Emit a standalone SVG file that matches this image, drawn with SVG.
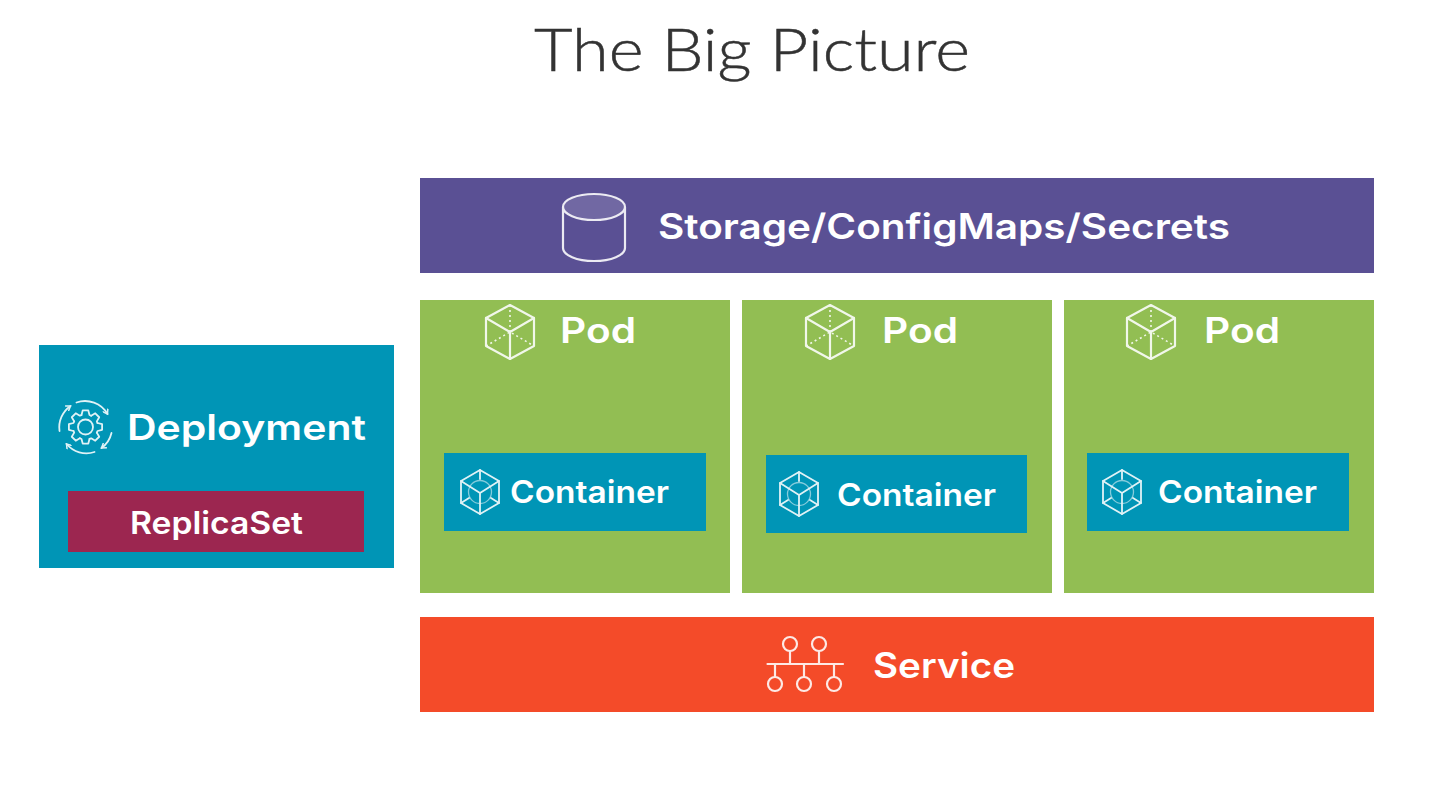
<svg xmlns="http://www.w3.org/2000/svg" xmlns:xlink="http://www.w3.org/1999/xlink" width="1442" height="812" viewBox="0 0 1442 812">
<style>
text{font-family:"Inter","Lato","Liberation Sans",sans-serif;fill:#fff;font-weight:600}
.title{font-family:"Lato","Liberation Sans",sans-serif;fill:#333;font-weight:300;font-size:59px;stroke:#333;stroke-width:.5}
.lab{font-size:35px}
.cont{font-size:31px}
.ic{fill:none;stroke:#fff;stroke-width:2.2;stroke-linejoin:round;stroke-linecap:round;opacity:.88}
.dot{stroke-dasharray:2 3;stroke-width:1.6;stroke-linecap:butt}
.thin{stroke-width:1.8}
.faint{stroke-width:1.3;opacity:.6}
.blue{fill:#0095b6}
.green{fill:#92be53}
</style>
<defs>
<g id="podIcon" class="ic">
<path d="M0,-27 L24,-14 L24,14 L0,27 L-24,14 L-24,-14 Z"/>
<path d="M-24,-14 L0,0 L24,-14 M0,0 L0,27"/>
<path class="dot" d="M0,-27 L0,0 M-24,14 L0,0 L24,14"/>
</g>
<g id="contIcon" class="ic thin">
<path d="M0,-22 L19,-11 L19,11 L0,22 L-19,11 L-19,-11 Z"/>
<path d="M-19,-11 L0,1 L19,-11 M0,1 L0,22 M0,-22 L0,-13 M-19,11 L-11,6 M19,11 L11,6"/>
<circle class="faint" cx="0" cy="0" r="11.5"/>
</g>
<path id="tooth" d="M-4,-12 L-2.8,-16.6 L2.8,-16.6 L4,-12 L5.6,-11.3"/>
<marker id="ah" markerWidth="7" markerHeight="7" refX="5" refY="3.5" orient="auto" markerUnits="userSpaceOnUse"><path d="M0.5,0.5 L5,3.5 L0.5,6.5" fill="none" stroke="#fff" stroke-width="1.5"/></marker>
</defs>

<text id="title" class="title" x="752" y="71" text-anchor="middle" textLength="436" lengthAdjust="spacingAndGlyphs">The Big Picture</text>

<g id="deployment">
<rect class="blue" x="39" y="345" width="355" height="223"/>
<g class="ic thin" transform="translate(85.500,427)">
<use xlink:href="#tooth"/>
<use xlink:href="#tooth" transform="rotate(45)"/>
<use xlink:href="#tooth" transform="rotate(90)"/>
<use xlink:href="#tooth" transform="rotate(135)"/>
<use xlink:href="#tooth" transform="rotate(180)"/>
<use xlink:href="#tooth" transform="rotate(225)"/>
<use xlink:href="#tooth" transform="rotate(270)"/>
<use xlink:href="#tooth" transform="rotate(315)"/>
<circle r="7.500"/>
<path marker-end="url(#ah)" d="M-9,-24.500 A26,26 0 0 1 22,-13"/>
<path marker-end="url(#ah)" d="M26,6 A26,26 0 0 1 16,21"/>
<path marker-end="url(#ah)" d="M9,25 A26,26 0 0 1 -19,17"/>
<path marker-end="url(#ah)" d="M-26,4 A26,26 0 0 1 -15,-21"/>
</g>
<text class="lab" x="127" y="440" textLength="239" lengthAdjust="spacingAndGlyphs">Deployment</text>
</g>

<g id="replicaset">
<rect x="68" y="491" width="296" height="61" fill="#9c2650"/>
<text x="216.500" y="534" font-size="31" text-anchor="middle" textLength="173" lengthAdjust="spacingAndGlyphs">ReplicaSet</text>
</g>

<g id="storage">
<rect x="420" y="178" width="954" height="95" fill="#5a5094"/>
<ellipse cx="594" cy="207" rx="31" ry="13" fill="#fff" fill-opacity=".14"/>
<path class="ic" d="M563,207 A31,13 0 0 1 625,207 A31,13 0 0 1 563,207 L563,248 A31,13 0 0 0 625,248 L625,207"/>
<text class="lab" x="658" y="239" textLength="572" lengthAdjust="spacingAndGlyphs">Storage/ConfigMaps/Secrets</text>
</g>

<g id="pod1">
<rect class="green" x="420" y="300" width="310" height="293"/>
<use xlink:href="#podIcon" x="510" y="332"/>
<text class="lab" x="560" y="343" textLength="76" lengthAdjust="spacingAndGlyphs">Pod</text>
</g>
<g id="container1">
<rect class="blue" x="444" y="453" width="262" height="78"/>
<use xlink:href="#contIcon" x="480" y="492"/>
<text class="cont" x="510" y="503" textLength="159" lengthAdjust="spacingAndGlyphs">Container</text>
</g>

<g id="pod2">
<rect class="green" x="742" y="300" width="310" height="293"/>
<use xlink:href="#podIcon" x="830" y="332"/>
<text class="lab" x="882" y="343" textLength="76" lengthAdjust="spacingAndGlyphs">Pod</text>
</g>
<g id="container2">
<rect class="blue" x="766" y="455" width="261" height="78"/>
<use xlink:href="#contIcon" x="799" y="494"/>
<text class="cont" x="837" y="506" textLength="159" lengthAdjust="spacingAndGlyphs">Container</text>
</g>

<g id="pod3">
<rect class="green" x="1064" y="300" width="310" height="293"/>
<use xlink:href="#podIcon" x="1151" y="332"/>
<text class="lab" x="1204" y="343" textLength="76" lengthAdjust="spacingAndGlyphs">Pod</text>
</g>
<g id="container3">
<rect class="blue" x="1087" y="453" width="262" height="78"/>
<use xlink:href="#contIcon" x="1122" y="492"/>
<text class="cont" x="1158" y="503" textLength="159" lengthAdjust="spacingAndGlyphs">Container</text>
</g>

<g id="service">
<rect x="420" y="617" width="954" height="95" fill="#f44b29"/>
<g class="ic">
<path d="M767.500,664 L843,664 M790,651 L790,664 M819,651 L819,664 M775,664 L775,677 M804,664 L804,677 M834,664 L834,677"/>
<circle cx="790" cy="644" r="7"/><circle cx="819" cy="644" r="7"/>
<circle cx="775" cy="684" r="7"/><circle cx="804" cy="684" r="7"/><circle cx="834" cy="684" r="7"/>
</g>
<text class="lab" x="873" y="678" textLength="142" lengthAdjust="spacingAndGlyphs">Service</text>
</g>

<g id="connectors"></g>
</svg>
